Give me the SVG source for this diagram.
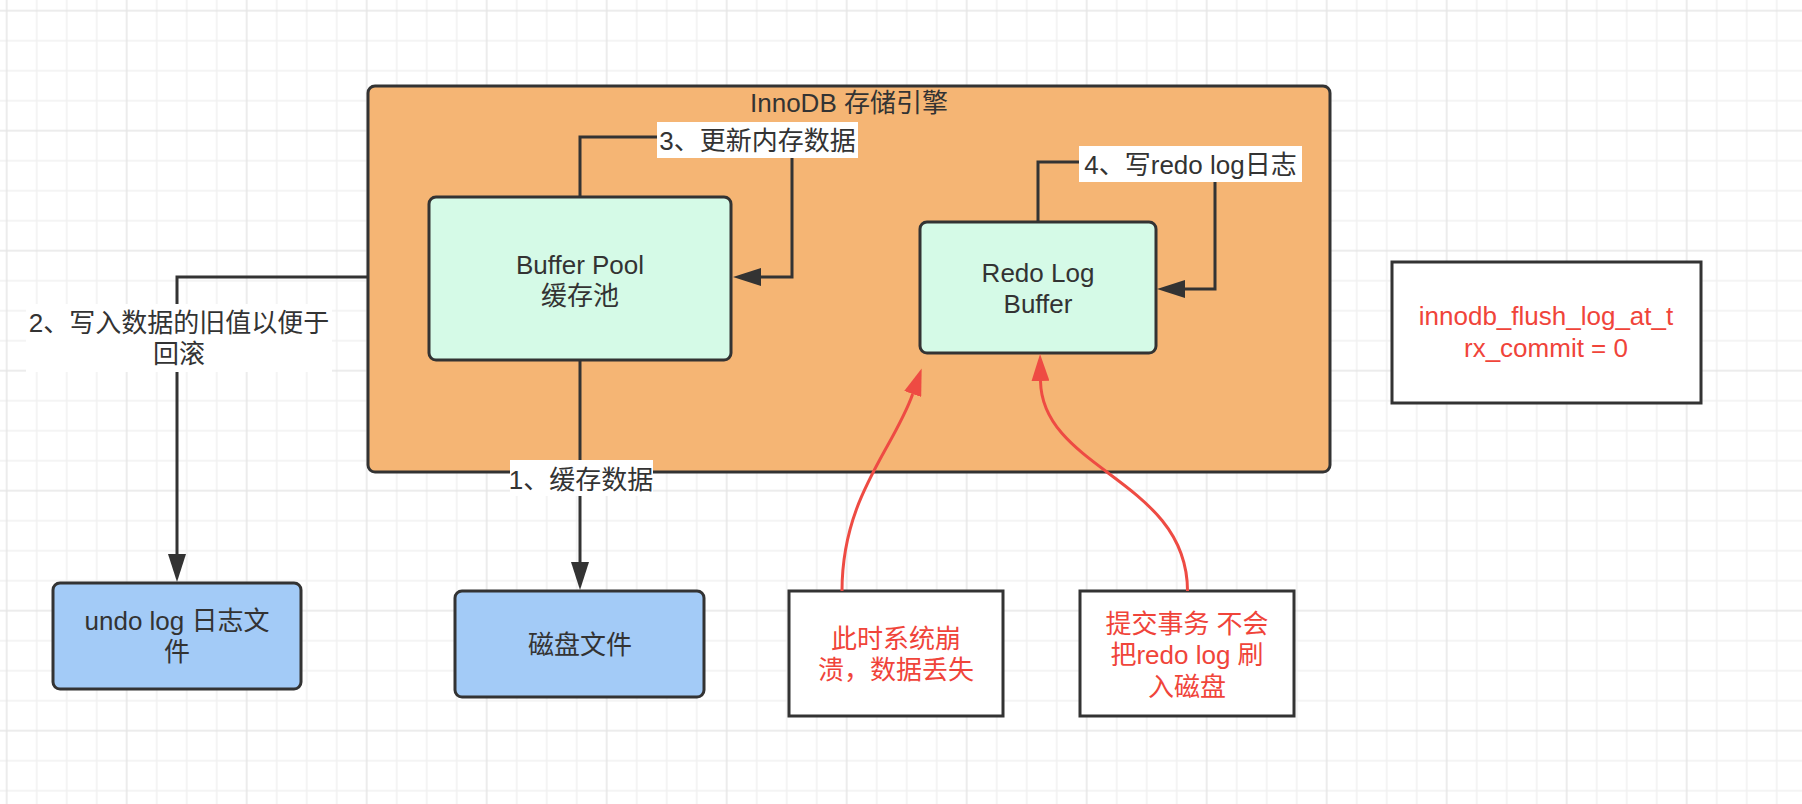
<svg xmlns="http://www.w3.org/2000/svg" width="1802" height="804" viewBox="0 0 1802 804">
<defs>
<style>
text { font-family: "Liberation Sans", "Noto Sans CJK SC", sans-serif; font-size: 26px; fill: #333333; text-anchor: middle; }
.red { fill: #f0443a; }
.box { stroke: #333333; stroke-width: 3; }
.note { fill: #ffffff; stroke: #333333; stroke-width: 3; }
.edge { fill: none; stroke: #333333; stroke-width: 3; }
.redge { fill: none; stroke: #ee4b43; stroke-width: 3; }
.lbl { fill: #ffffff; }
</style>
<pattern id="grid" x="5.7" y="9.7" width="120" height="120" patternUnits="userSpaceOnUse">
<rect width="120" height="120" fill="#ffffff"/>
<path d="M31 0V120M61 0V120M91 0V120M0 31H120M0 61H120M0 91H120" stroke="#f1f1f1" stroke-width="1.5"/>
<path d="M1 0V120M0 1H120" stroke="#e6e6e6" stroke-width="1.5"/>
</pattern>
<marker id="arrow" markerUnits="userSpaceOnUse" viewBox="0 0 28 18" markerWidth="28" markerHeight="18" refX="0" refY="9" orient="auto"><path d="M0 0L28 9L0 18Z" fill="#333333"/></marker>
<marker id="rarrow" markerUnits="userSpaceOnUse" viewBox="0 0 27 18" markerWidth="27" markerHeight="18" refX="0" refY="9" orient="auto"><path d="M0 0L27 9L0 18Z" fill="#ee4b43"/></marker>
</defs>
<rect width="1802" height="804" fill="url(#grid)"/>

<g id="innodb">
<rect class="box" x="368" y="86" width="962" height="386" rx="7" fill="#f5b574"/>
<text x="849" y="112">InnoDB 存储引擎</text>
</g>

<g id="buffer-pool">
<rect class="box" x="429" y="197" width="302" height="163" rx="7" fill="#d5fae7"/>
<text x="580" y="274">Buffer Pool</text>
<text x="580" y="305">缓存池</text>
</g>

<g id="redo-log-buffer">
<rect class="box" x="920" y="222" width="236" height="131" rx="7" fill="#d5fae7"/>
<text x="1038" y="282">Redo Log</text>
<text x="1038" y="313">Buffer</text>
</g>

<g id="undo-log">
<rect class="box" x="53" y="583" width="248" height="106" rx="7" fill="#a3cbf7"/>
<text x="177" y="630">undo log 日志文</text>
<text x="177" y="661">件</text>
</g>

<g id="disk-file">
<rect class="box" x="455" y="591" width="249" height="106" rx="7" fill="#a3cbf7"/>
<text x="580" y="654">磁盘文件</text>
</g>

<g id="crash-note">
<rect class="note" x="789" y="591" width="214" height="125"/>
<text class="red" x="896" y="648">此时系统崩</text>
<text class="red" x="896" y="679">溃，数据丢失</text>
</g>

<g id="commit-note">
<rect class="note" x="1080" y="591" width="214" height="125"/>
<text class="red" x="1187" y="633">提交事务 不会</text>
<text class="red" x="1187" y="664">把redo log 刷</text>
<text class="red" x="1187" y="696">入磁盘</text>
</g>

<g id="flush-note">
<rect class="note" x="1392" y="262" width="309" height="141"/>
<text class="red" x="1546" y="325">innodb_flush_log_at_t</text>
<text class="red" x="1546" y="357">rx_commit = 0</text>
</g>

<g id="connectors">
<path class="edge" d="M580 360V562" marker-end="url(#arrow)"/>
<rect class="lbl" x="510" y="460" width="143" height="36"/>
<text x="581" y="489">1、缓存数据</text>

<path class="edge" d="M368 277H177V554" marker-end="url(#arrow)"/>
<rect class="lbl" x="26" y="304" width="306" height="68"/>
<text x="179" y="332">2、写入数据的旧值以便于</text>
<text x="179" y="363">回滚</text>

<path class="edge" d="M580 197V137H792V277H761" marker-end="url(#arrow)"/>
<rect class="lbl" x="657" y="122" width="201" height="36"/>
<text x="757.5" y="150">3、更新内存数据</text>

<path class="edge" d="M1038 222V162H1215V289H1185" marker-end="url(#arrow)"/>
<rect class="lbl" x="1079" y="146" width="223" height="36"/>
<text x="1190.5" y="173.5">4、写redo log日志</text>

<path class="redge" d="M842 591C842 497 893 450 912.7 394" marker-end="url(#rarrow)"/>
<path class="redge" d="M1187.5 591C1187.5 480 1042 470 1040.5 381" marker-end="url(#rarrow)"/>
</g>
</svg>
